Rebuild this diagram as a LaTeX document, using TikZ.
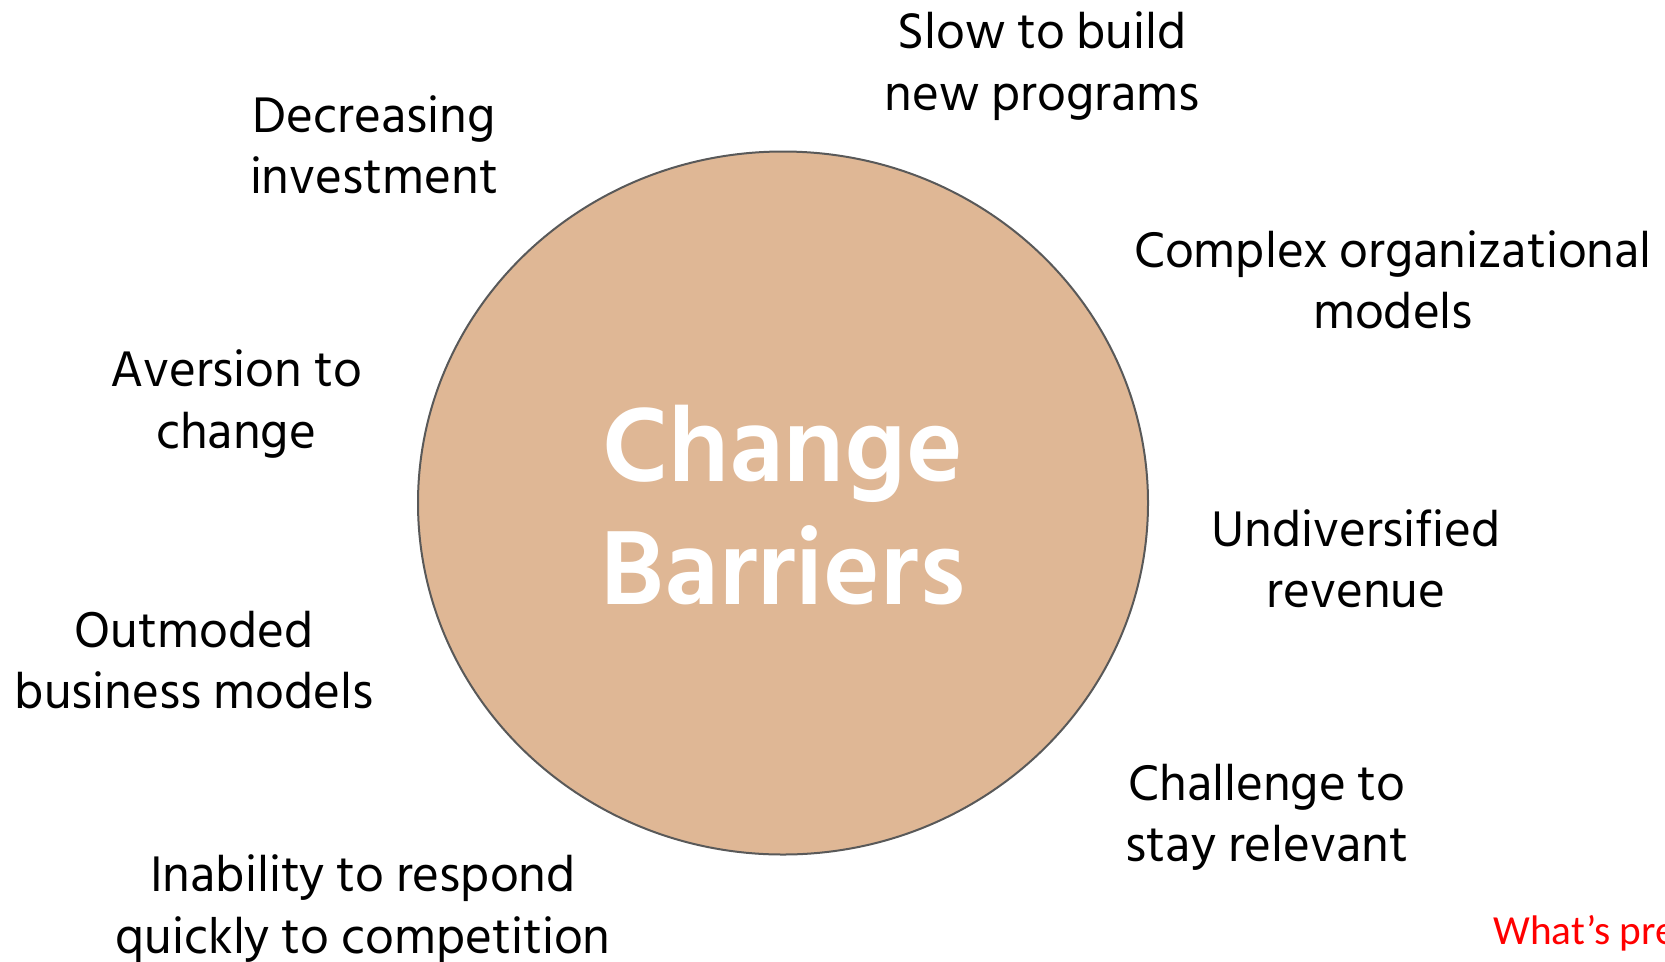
\documentclass[tikz,border=0pt]{standalone}
\usepackage{fontspec}
\setmainfont{Hind Siliguri}
\newfontfamily\redfont{Carlito}
\definecolor{circfill}{HTML}{DFB795}
\definecolor{circedge}{HTML}{595959}
\begin{document}
\begin{tikzpicture}[x=0.75pt,y=-0.75pt,
  lbl/.style={align=center,font=\fontsize{38.5}{46}\selectfont,text=black,inner sep=0pt},
  title/.style={align=center,font=\fontsize{81}{92}\selectfont\bfseries,text=white,inner sep=0pt}]
\useasboundingbox (0,0) rectangle (1665,961);
\fill[white] (0,0) rectangle (1665,961);
\draw[circedge,fill=circfill,line width=1.5pt] (783,503) ellipse [x radius=365, y radius=351.5];
\node[title] (center) at (783,505) {Change\\Barriers};
\node[lbl] (slow) at (1042,66) {Slow to build\\new programs};
\node[lbl] (decr) at (374,145) {Decreasing\\investment};
\node[lbl] (complex) at (1393,280) {Complex organizational\\models};
\node[lbl] (aversion) at (236,404) {Aversion to\\change};
\node[lbl] (undiv) at (1356,559) {Undiversified\\revenue};
\node[lbl] (outmoded) at (194,660) {Outmoded\\business models};
\node[lbl] (challenge) at (1267,817) {Challenge to\\stay relevant};
\node[lbl] (inability) at (363,909) {Inability to respond\\quickly to competition};
\node[anchor=base west,inner sep=0pt,text=red,font=\redfont\fontsize{31}{36}\selectfont] (whats) at (1493,944) {What’s pre};
\end{tikzpicture}
\end{document}
